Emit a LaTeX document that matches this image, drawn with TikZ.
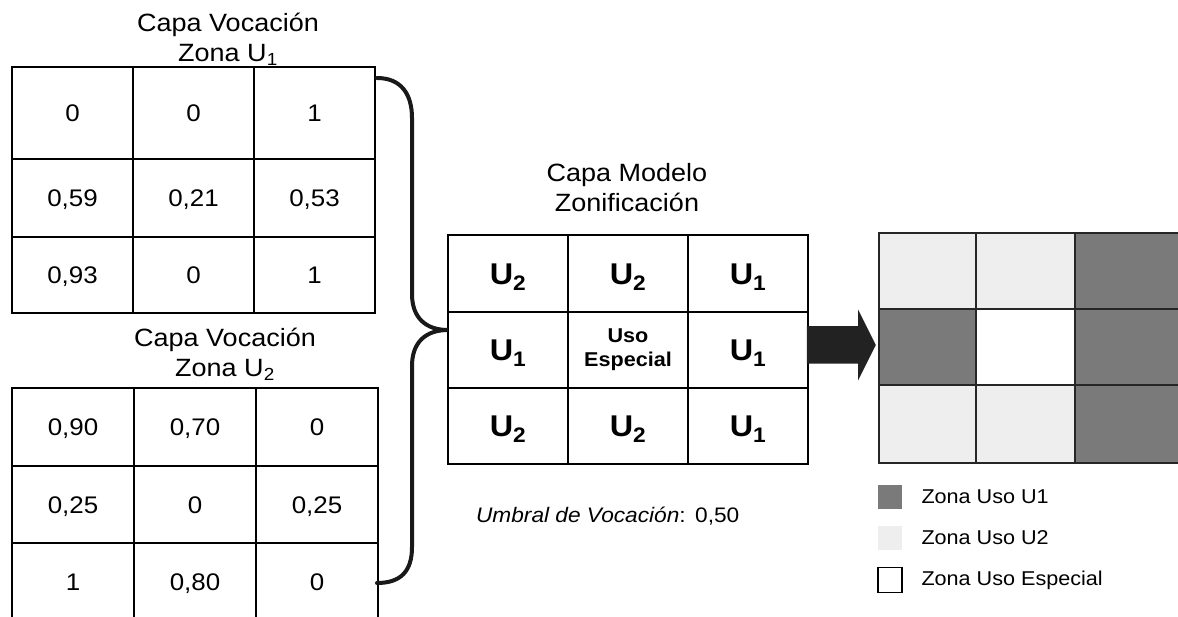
\documentclass[tikz,border=0pt]{standalone}
\usepackage{fontspec}
\setmainfont{Liberation Sans}[FakeStretch=1.08]
\usepackage{tikz}
\usetikzlibrary{shapes.arrows}
\usetikzlibrary{positioning,calc}
\definecolor{zonauno}{RGB}{122,122,122}
\definecolor{zonados}{RGB}{238,238,238}
\definecolor{flechagris}{RGB}{34,34,34}
\newcommand{\zsub}[1]{\textsubscript{#1}}
\tikzset{
	every node/.style={font=\fontsize{24}{28}\selectfont}
}
\tikzset{
	celda/.style={rectangle,draw,inner sep=0pt,outer sep=0pt,minimum width=121pt,minimum height=#1,
		text height=17.2pt,text depth=0pt},
	celda/.default=77pt,
	zona/.style={celda=#1,minimum width=120pt,text height=21.5pt,font=\fontsize{30}{34}\selectfont\bfseries},
	zona/.default=76pt,
	especial/.style={celda=#1,minimum width=120pt,text height={},text depth={},align=center,
		font=\fontsize{20}{24}\selectfont\bfseries},
	especial/.default=76pt,
	mapa/.style={celda=#1,draw=black!85},
	titulo/.style={anchor=base,font=\fontsize{25}{30}\selectfont},
	llave/.style={line width=4pt,line cap=round,draw=black!90},
	flecha/.style={single arrow,fill=flechagris,inner xsep=0pt,inner ysep=18pt,minimum height=69pt,
		single arrow head extend=16.5pt,single arrow tip angle=127},
	muestra/.style={rectangle,inner sep=0pt,minimum width=24pt,minimum height=24pt},
	leyenda/.style={inner sep=0pt,font=\fontsize{20}{24}\selectfont}
}

\begin{document}
\begin{tikzpicture}[x=1pt,y=-1pt,line width=1.5pt]
      \useasboundingbox (0,0) rectangle (1178,617);
      \node[titulo] (tituloA) at (228,32) {Capa Vocación};
      \node[titulo] (zonaA) at (228,62) {Zona U\zsub{1}};
      \node[celda=92pt,anchor=north west] (a11) at (12,67) {0};
      \node[celda=92pt,right=0pt of a11] (a12) {0};
      \node[celda=92pt,right=0pt of a12] (a13) {1};
      \node[celda=78pt,below=0pt of a11] (a21) {0,59};
      \node[celda=78pt,right=0pt of a21] (a22) {0,21};
      \node[celda=78pt,right=0pt of a22] (a23) {0,53};
      \node[celda=76pt,below=0pt of a21] (a31) {0,93};
      \node[celda=76pt,right=0pt of a31] (a32) {0};
      \node[celda=76pt,right=0pt of a32] (a33) {1};

      \node[titulo] (tituloB) at (225,347) {Capa Vocación};
      \node[titulo] (zonaB) at (225,377) {Zona U\zsub{2}};
      \node[celda=78pt,minimum width=122pt,anchor=north west] (b11) at (12,388) {0,90};
      \node[celda=78pt,minimum width=122pt,right=0pt of b11] (b12) {0,70};
      \node[celda=78pt,minimum width=122pt,right=0pt of b12] (b13) {0};
      \node[celda=77pt,minimum width=122pt,below=0pt of b11] (b21) {0,25};
      \node[celda=77pt,minimum width=122pt,right=0pt of b21] (b22) {0};
      \node[celda=77pt,minimum width=122pt,right=0pt of b22] (b23) {0,25};
      \node[celda=77pt,minimum width=122pt,below=0pt of b21] (b31) {1};
      \node[celda=77pt,minimum width=122pt,right=0pt of b31] (b32) {0,80};
      \node[celda=77pt,minimum width=122pt,right=0pt of b32] (b33) {0};

      \node[titulo] (tituloM) at (627,182) {Capa Modelo};
      \node[titulo] (zonaM) at (627,212) {Zonificación};
      \node[zona=77pt,anchor=north west] (m11) at (448,235) {U\zsub{2}};
      \node[zona=77pt,right=0pt of m11] (m12) {U\zsub{2}};
      \node[zona=77pt,right=0pt of m12] (m13) {U\zsub{1}};
      \node[zona,below=0pt of m11] (m21) {U\zsub{1}};
      \node[especial,right=0pt of m21] (m22) {Uso\\Especial};
      \node[zona,right=0pt of m22] (m23) {U\zsub{1}};
      \node[zona,below=0pt of m21] (m31) {U\zsub{2}};
      \node[zona,right=0pt of m31] (m32) {U\zsub{2}};
      \node[zona,right=0pt of m32] (m33) {U\zsub{1}};

      \node[anchor=base west,font=\fontsize{21}{25}\selectfont] (umbral) at (472,522) {\textit{Umbral de Vocación}:\hspace{0.45em}0,50};

      \coordinate (llavesup) at (377,78);
      \coordinate (llavepunta) at (448,330);
      \coordinate (llaveinf) at (377,583);
      \draw[llave] (llavesup) .. controls +(24,0) and +(0,-24) .. (412,118) -- (412,294)
            .. controls +(0,24) and +(-22,0) .. (llavepunta)
            .. controls +(-22,0) and +(0,-24) .. (412,366) -- (412,547)
            .. controls +(0,24) and +(24,0) .. (llaveinf);

      \node[flecha,anchor=west] (flecha) at (806,345) {};

      \node[mapa=76pt,minimum width=97pt,fill=zonados,anchor=north west] (r11) at (879,233) {};
      \node[mapa=76pt,minimum width=99pt,fill=zonados,right=0pt of r11] (r12) {};
      \node[mapa=76pt,minimum width=106pt,fill=zonauno,right=0pt of r12] (r13) {};
      \node[mapa=76pt,minimum width=97pt,fill=zonauno,below=0pt of r11] (r21) {};
      \node[mapa=76pt,minimum width=99pt,fill=white,right=0pt of r21] (r22) {};
      \node[mapa=76pt,minimum width=106pt,fill=zonauno,right=0pt of r22] (r23) {};
      \node[mapa=78pt,minimum width=97pt,fill=zonados,below=0pt of r21] (r31) {};
      \node[mapa=78pt,minimum width=99pt,fill=zonados,right=0pt of r31] (r32) {};
      \node[mapa=78pt,minimum width=106pt,fill=zonauno,right=0pt of r32] (r33) {};

      \node[muestra,fill=zonauno] (leyuno) at (890,497) {};
      \node[leyenda,right=18pt of leyuno] (txtuno) {Zona Uso U1};
      \node[muestra,fill=zonados] (leydos) at (890,538) {};
      \node[leyenda,right=18pt of leydos] (txtdos) {Zona Uso U2};
      \node[muestra,draw,minimum height=25pt] (leyesp) at (890,580) {};
      \node[leyenda,right=18pt of leyesp] (txtesp) {Zona Uso Especial};
    \end{tikzpicture}
\end{document}
